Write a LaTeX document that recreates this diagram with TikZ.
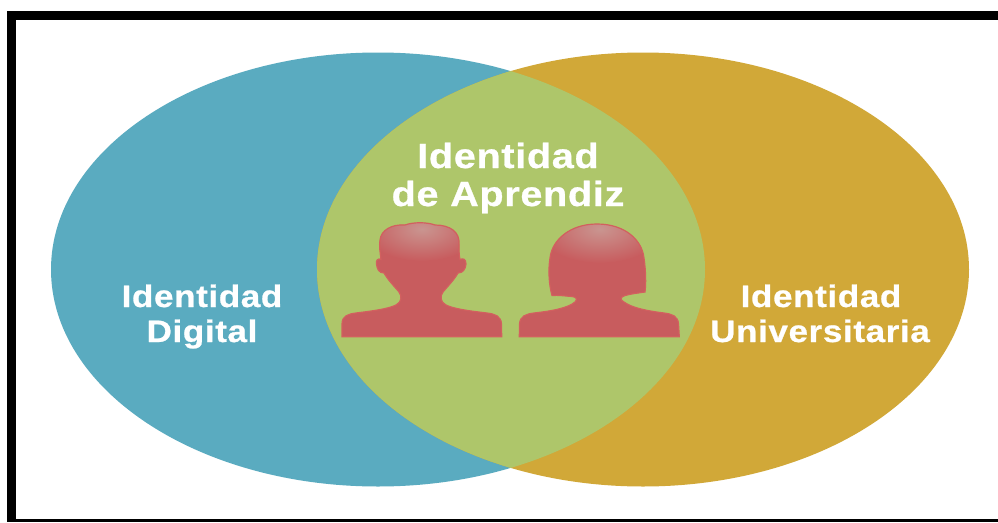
\documentclass[tikz,border=0pt]{standalone}
\usepackage{fontspec}
\setmainfont{Liberation Sans}
\newfontfamily\lblfont{Liberation Sans}[FakeStretch=1.13,LetterSpace=2,FakeBold=0.8]
\definecolor{blueC}{HTML}{5AABC0}
\definecolor{goldC}{HTML}{D1A838}
\definecolor{greenC}{HTML}{AEC66A}
\definecolor{redC}{HTML}{C85C5E}
\definecolor{redE}{HTML}{D2605F}
\definecolor{hlC}{HTML}{C99590}
\newcommand{\malesil}{(342,336.7) -- (342,324) .. controls (342,316) and (348,314) .. (356,313)
 .. controls (372,311) and (388,309) .. (396,305)
 .. controls (402,302) and (402,296) .. (399,292)
 .. controls (394,286) and (388,280) .. (384,273)
 .. controls (379,273) and (377,269) .. (376.5,264) .. controls (376,260) and (378,258) .. (381,259.5)
 .. controls (380,252) and (379,245) .. (380,240)
 .. controls (381,230) and (392,224) .. (405,225) .. controls (413,222) and (427,222) .. (435,225)
 .. controls (450,225) and (460,232) .. (459,244)
 .. controls (459,250) and (459,255) .. (460,259.5)
 .. controls (463,258) and (466,259) .. (466,264) .. controls (465.5,269) and (463,273) .. (458,273)
 .. controls (454,280) and (448,286) .. (443,292)
 .. controls (440,296) and (440,302) .. (446,305)
 .. controls (454,309) and (470,311) .. (487,313) .. controls (495,314) and (501,316) .. (501.5,324)
 -- (501.7,336.7) -- cycle}
\newcommand{\femsil}{(519.3,336.7) -- (519.5,324) .. controls (520,316) and (526,314) .. (534,313)
 .. controls (552,311) and (568,308) .. (575,302)
 .. controls (578,299) and (576,297) .. (572,296.5)
 .. controls (565,296) and (558,295) .. (552,295.5)
 .. controls (549,285) and (548,270) .. (550,258)
 .. controls (552,240) and (570,224) .. (597,224)
 .. controls (625,224) and (642,240) .. (644,258)
 .. controls (646,272) and (646,284) .. (645,292)
 .. controls (638,293) and (630,294) .. (625,295.5)
 .. controls (620,297) and (620,300) .. (624,302)
 .. controls (632,308) and (648,311) .. (664,313) .. controls (672,314) and (678,316) .. (678.5,324)
 -- (679.3,336.7) -- cycle}
\begin{document}
\begin{tikzpicture}[x=1pt,y=-1pt,
  bigtxt/.style={text=white,inner sep=0pt,anchor=base,font=\lblfont\bfseries\fontsize{35}{38}\selectfont},
  sidetxt/.style={text=white,inner sep=0pt,anchor=base,font=\lblfont\bfseries\fontsize{31}{35}\selectfont},
  frame/.style={fill=black}]
\useasboundingbox (0,0) rectangle (998,522);
\fill[white] (0,0) rectangle (998,522);
% frame
\fill[frame] (7,11) rectangle (998,20);
\fill[frame] (7,11) rectangle (16,522);
\fill[frame] (7,519) rectangle (998,522);
% ellipses
\fill[blueC] (378,269.5) ellipse [x radius=327, y radius=217];
\fill[goldC] (643,269.5) ellipse [x radius=326, y radius=217];
\begin{scope}
  \clip (378,269.5) ellipse [x radius=327, y radius=217];
  \fill[greenC] (643,269.5) ellipse [x radius=326, y radius=217];
\end{scope}
% silhouettes
\fill[redC] \malesil;
\begin{scope}
  \clip \malesil;
  \shade[inner color=hlC, outer color=redC] (422,229) ellipse [x radius=58, y radius=32];
\end{scope}
\draw[redE, line width=1.2pt] \malesil;
\fill[redC] \femsil;
\begin{scope}
  \clip \femsil;
  \shade[inner color=hlC, outer color=redC] (600,229) ellipse [x radius=62, y radius=34];
\end{scope}
\draw[redE, line width=1.2pt] \femsil;
% labels
\node[bigtxt] (c1) at (508,168) {Identidad};
\node[bigtxt] (c2) at (508,206) {de Aprendiz};
\node[sidetxt] (l1) at (202,307) {Identidad};
\node[sidetxt] (l2) at (202,342) {Digital};
\node[sidetxt] (r1) at (821,307) {Identidad};
\node[sidetxt] (r2) at (820,342) {Universitaria};
\end{tikzpicture}
\end{document}
